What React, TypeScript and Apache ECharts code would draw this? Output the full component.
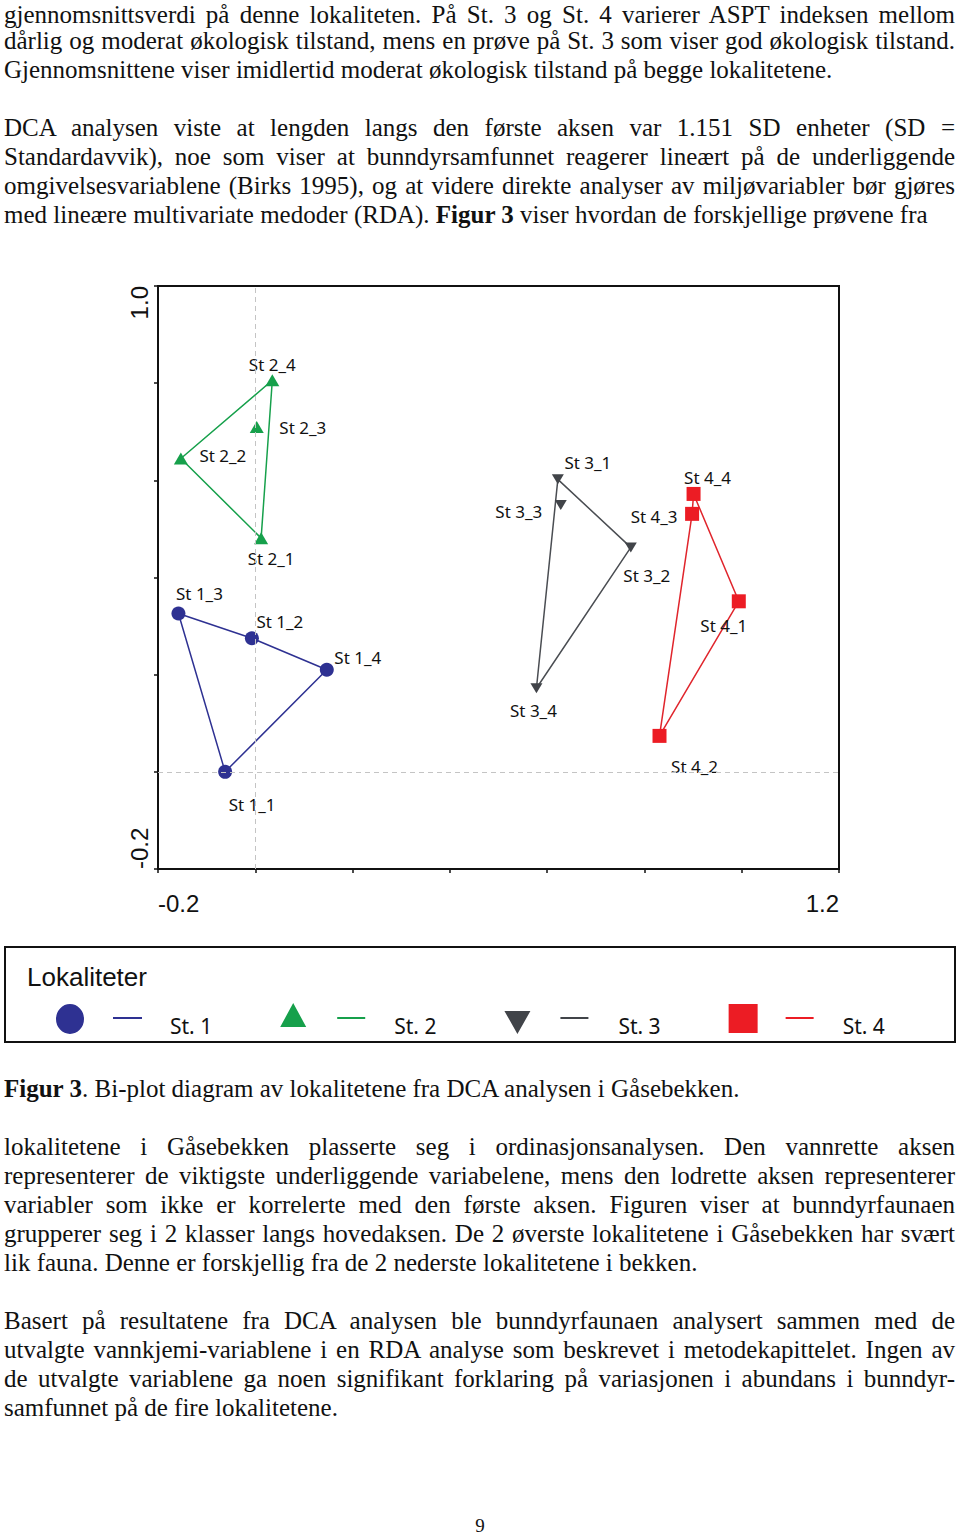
import React, { useEffect, useRef } from "react";
import * as echarts from "echarts";

// ---------- Data ----------
const STATIONS = ["St. 1", "St. 2", "St. 3", "St. 4"];

const ST1_SAMPLES = ["St 1_1", "St 1_2", "St 1_3", "St 1_4"];
const ST1_AX1 = [-0.062, -0.007, -0.158, 0.147];
const ST1_AX2 = [0.0, 0.275, 0.326, 0.21];
const ST1_HULL = ["St 1_3", "St 1_2", "St 1_4", "St 1_1", "St 1_3"];

const ST2_SAMPLES = ["St 2_1", "St 2_2", "St 2_3", "St 2_4"];
const ST2_AX1 = [0.012, -0.153, 0.003, 0.035];
const ST2_AX2 = [0.481, 0.645, 0.71, 0.806];
const ST2_HULL = ["St 2_4", "St 2_2", "St 2_1", "St 2_4"];

const ST3_SAMPLES = ["St 3_1", "St 3_2", "St 3_3", "St 3_4"];
const ST3_AX1 = [0.622, 0.772, 0.628, 0.578];
const ST3_AX2 = [0.602, 0.462, 0.549, 0.172];
const ST3_HULL = ["St 3_1", "St 3_2", "St 3_4", "St 3_1"];

const ST4_SAMPLES = ["St 4_1", "St 4_2", "St 4_3", "St 4_4"];
const ST4_AX1 = [0.994, 0.831, 0.898, 0.901];
const ST4_AX2 = [0.351, 0.074, 0.531, 0.572];
const ST4_HULL = ["St 4_4", "St 4_1", "St 4_2", "St 4_3", "St 4_4"];

const AXIS_MIN_X = -0.2;
const AXIS_MAX_X = 1.2;
const AXIS_MIN_Y = -0.2;
const AXIS_MAX_Y = 1.0;
const TICK_STEP = 0.2;
const X_TICK_LABELS = ["-0.2", "1.2"];
const Y_TICK_LABELS = ["-0.2", "1.0"];

const LEGEND_TITLE = "Lokaliteter";

// ---------- Styles ----------
const COLORS = ["#2e3192", "#16a04b", "#414449", "#ec1c24"];
const LINE_COLORS = ["#2e3192", "#16a04b", "#4a4d52", "#e0252c"];
const SYMBOLS = [
  "circle",
  "triangle",
  "path://M0,0 L20,0 L10,17 Z",
  "rect",
];
const SYMBOL_SIZES: any[] = [14, [14, 12], [12, 10], 14];

const LABEL_OFFSETS: Record<string, number[]> = {
  "St 1_1": [27, 33],
  "St 1_2": [28, -17],
  "St 1_3": [21, -20],
  "St 1_4": [31, -12],
  "St 2_1": [10, 20],
  "St 2_2": [42, -3],
  "St 2_3": [46, 1],
  "St 2_4": [0, -16],
  "St 3_1": [30, -17],
  "St 3_2": [16, 28],
  "St 3_3": [-42, 6],
  "St 3_4": [-3, 22],
  "St 4_1": [-15, 24],
  "St 4_2": [35, 31],
  "St 4_3": [-38, 3],
  "St 4_4": [14, -16],
};

// legend icon frame: 86 x 46 (icon drawn in the upper part, text centred lower)
const ANCHORS = "M0,0 L0.01,0 L0,0.01 Z M86,46 L85.99,46 L86,45.99 Z ";
const LEGEND_ICONS = [
  ANCHORS + "M0,16 A14,15 0 1,0 28,16 A14,15 0 1,0 0,16 Z M57,14 L86,14 L86,16 L57,16 Z",
  ANCHORS + "M13,0 L26,24 L0,24 Z M57,14 L85,14 L85,16 L57,16 Z",
  ANCHORS + "M0,8 L26,8 L13,31 Z M56,14 L84,14 L84,16 L56,16 Z",
  ANCHORS + "M0,1 L29,1 L29,30 L0,30 Z M57,14 L85,14 L85,16 L57,16 Z",
];

// ---------- Page text ----------
type Seg = { t: string; b?: boolean };
type Line = { segs: Seg[]; y: number; justify: boolean };

const L = (t: string, y: number, justify = true): Line => ({ segs: [{ t }], y, justify });

const TEXT_LINES: Line[] = [
  L("gjennomsnittsverdi på denne lokaliteten. På St. 3 og St. 4 varierer ASPT indeksen mellom", 14),
  L("dårlig og moderat økologisk tilstand, mens en prøve på St. 3 som viser god økologisk tilstand.", 40),
  L("Gjennomsnittene viser imidlertid moderat økologisk tilstand på begge lokalitetene.", 69, false),
  L("DCA analysen viste at lengden langs den første aksen var 1.151 SD enheter (SD =", 127),
  L("Standardavvik), noe som viser at bunndyrsamfunnet reagerer lineært på de underliggende", 156),
  L("omgivelsesvariablene (Birks 1995), og at videre direkte analyser av miljøvariabler bør gjøres", 185),
  {
    segs: [
      { t: "med lineære multivariate medoder (RDA). " },
      { t: "Figur 3", b: true },
      { t: " viser hvordan de forskjellige prøvene fra" },
    ],
    y: 214,
    justify: false,
  },
  {
    segs: [
      { t: "Figur 3", b: true },
      { t: ". Bi-plot diagram av lokalitetene fra DCA analysen i Gåsebekken." },
    ],
    y: 1088,
    justify: false,
  },
  L("lokalitetene i Gåsebekken plasserte seg i ordinasjonsanalysen. Den vannrette aksen", 1146),
  L("representerer de viktigste underliggende variabelene, mens den lodrette aksen representerer", 1175),
  L("variabler som ikke er korrelerte med den første aksen. Figuren viser at bunndyrfaunaen", 1204),
  L("grupperer seg i 2 klasser langs hovedaksen. De 2 øverste lokalitetene i Gåsebekken har svært", 1233),
  L("lik fauna. Denne er forskjellig fra de 2 nederste lokalitetene i bekken.", 1262, false),
  L("Basert på resultatene fra DCA analysen ble bunndyrfaunaen analysert sammen med de", 1320),
  L("utvalgte vannkjemi-variablene i en RDA analyse som beskrevet i metodekapittelet. Ingen av", 1349),
  L("de utvalgte variablene ga noen signifikant forklaring på variasjonen i abundans i bunndyr-", 1378),
  L("samfunnet på de fire lokalitetene.", 1407, false),
];
const PAGE_NUMBER = "9";

// ---------- Chart option ----------
const STATION_DATA = [
  { names: ST1_SAMPLES, x: ST1_AX1, y: ST1_AX2, hull: ST1_HULL },
  { names: ST2_SAMPLES, x: ST2_AX1, y: ST2_AX2, hull: ST2_HULL },
  { names: ST3_SAMPLES, x: ST3_AX1, y: ST3_AX2, hull: ST3_HULL },
  { names: ST4_SAMPLES, x: ST4_AX1, y: ST4_AX2, hull: ST4_HULL },
];

const near = (a: number, b: number) => Math.abs(a - b) < 1e-6;

function buildOption() {
  const series: any[] = [];
  STATION_DATA.forEach((st, i) => {
    const pt = (n: string) => {
      const j = st.names.indexOf(n);
      return [st.x[j], st.y[j]];
    };
    series.push({
      type: "line",
      name: STATIONS[i] + " omriss",
      data: st.hull.map(pt),
      symbol: "none",
      showSymbol: false,
      silent: true,
      z: 2,
      lineStyle: { color: LINE_COLORS[i], width: 1.5 },
      ...(i === 0
        ? {
            markLine: {
              silent: true,
              symbol: "none",
              label: { show: false },
              lineStyle: { type: [5, 4], color: "#c4c4c4", width: 1 },
              data: [{ xAxis: 0 }, { yAxis: 0 }],
            },
          }
        : {}),
    });
    series.push({
      type: "scatter",
      name: STATIONS[i],
      symbol: SYMBOLS[i],
      symbolSize: SYMBOL_SIZES[i],
      z: 3,
      itemStyle: { color: COLORS[i], opacity: 1 },
      label: {
        show: true,
        position: "inside",
        formatter: "{b}",
        color: "#111",
        fontSize: 17,
        fontFamily: "Noto Sans",
      },
      data: st.names.map((n, j) => ({
        name: n,
        value: [st.x[j], st.y[j]],
        label: { offset: LABEL_OFFSETS[n] },
      })),
    });
  });

  const axisText = { fontSize: 24, fontFamily: "Liberation Sans", color: "#111" };

  return {
    animation: false,
    backgroundColor: "transparent",
    title: {
      text: LEGEND_TITLE,
      left: 27,
      top: 694,
      padding: 0,
      textStyle: { fontSize: 26, fontWeight: "normal", fontFamily: "Liberation Sans", color: "#111" },
    },
    grid: {
      left: 158,
      top: 16,
      width: 681,
      height: 583,
      show: true,
      borderColor: "#111",
      borderWidth: 2,
      backgroundColor: "transparent",
    },
    xAxis: {
      type: "value",
      min: AXIS_MIN_X,
      max: AXIS_MAX_X,
      interval: TICK_STEP,
      splitLine: { show: false },
      axisLine: { show: true, onZero: false, lineStyle: { color: "#111", width: 2 } },
      axisTick: { show: true, length: 4, lineStyle: { color: "#111", width: 1.5 } },
      axisLabel: {
        ...axisText,
        margin: 22,
        showMinLabel: true,
        showMaxLabel: true,
        alignMinLabel: "left",
        alignMaxLabel: "right",
        formatter: (v: number) => {
          if (near(v, AXIS_MIN_X)) return X_TICK_LABELS[0];
          if (near(v, AXIS_MAX_X)) return X_TICK_LABELS[1];
          return "";
        },
      },
    },
    yAxis: {
      type: "value",
      min: AXIS_MIN_Y,
      max: AXIS_MAX_Y,
      interval: TICK_STEP,
      splitLine: { show: false },
      axisLine: { show: true, onZero: false, lineStyle: { color: "#111", width: 2 } },
      axisTick: { show: true, length: 4, lineStyle: { color: "#111", width: 1.5 } },
      axisLabel: {
        ...axisText,
        rotate: 90,
        margin: 7,
        showMinLabel: true,
        showMaxLabel: true,
        alignMinLabel: "left",
        alignMaxLabel: "right",
        formatter: (v: number) => {
          if (near(v, AXIS_MIN_Y)) return Y_TICK_LABELS[0];
          if (near(v, AXIS_MAX_Y)) return Y_TICK_LABELS[1];
          return "";
        },
      },
    },
    legend: {
      data: STATIONS.map((n, i) => ({ name: n, icon: "path://" + LEGEND_ICONS[i] })),
      left: 56,
      top: 733,
      orient: "horizontal",
      itemWidth: 86,
      itemHeight: 46,
      itemGap: 68,
      padding: 0,
      selectedMode: false,
      symbolRotate: 0,
      textStyle: {
        fontSize: 21,
        fontFamily: "Noto Sans",
        color: "#111",
        padding: [0, 0, 0, 23],
        width: 44,
      },
    },
    graphic: [
      {
        type: "rect",
        silent: true,
        shape: { x: 5, y: 677, width: 950, height: 95 },
        style: { fill: "none", stroke: "#111", lineWidth: 2 },
      },
    ],
    series,
  };
}

export default function App() {
  const ref = useRef<HTMLDivElement>(null);
  useEffect(() => {
    if (!ref.current) return;
    const chart = echarts.init(ref.current, null, { renderer: "svg" });
    chart.setOption(buildOption() as any);
    return () => chart.dispose();
  }, []);

  return (
    <div
      style={{
        position: "absolute",
        left: 0,
        top: 0,
        width: 960,
        height: 1537,
        background: "#fff",
        color: "#111",
        fontFamily: '"Liberation Serif", "Times New Roman", serif',
        overflow: "hidden",
      }}
    >
      {TEXT_LINES.map((ln, i) => (
        <div
          key={i}
          style={{
            position: "absolute",
            left: 4,
            width: 951,
            top: ln.y - 14.5,
            height: 29,
            lineHeight: "29px",
            fontSize: 25,
            textAlign: ln.justify ? "justify" : "left",
            textAlignLast: ln.justify ? "justify" : "left",
          } as any}
        >
          {ln.segs.map((s, k) =>
            s.b ? <b key={k}>{s.t}</b> : <span key={k}>{s.t}</span>
          )}
        </div>
      ))}
      <div
        ref={ref}
        style={{ position: "absolute", left: 0, top: 270, width: 960, height: 790 }}
      />
      <div
        style={{
          position: "absolute",
          left: 0,
          width: 960,
          top: 1517,
          height: 18,
          lineHeight: "18px",
          textAlign: "center",
          fontSize: 19,
        }}
      >
        {PAGE_NUMBER}
      </div>
    </div>
  );
}
